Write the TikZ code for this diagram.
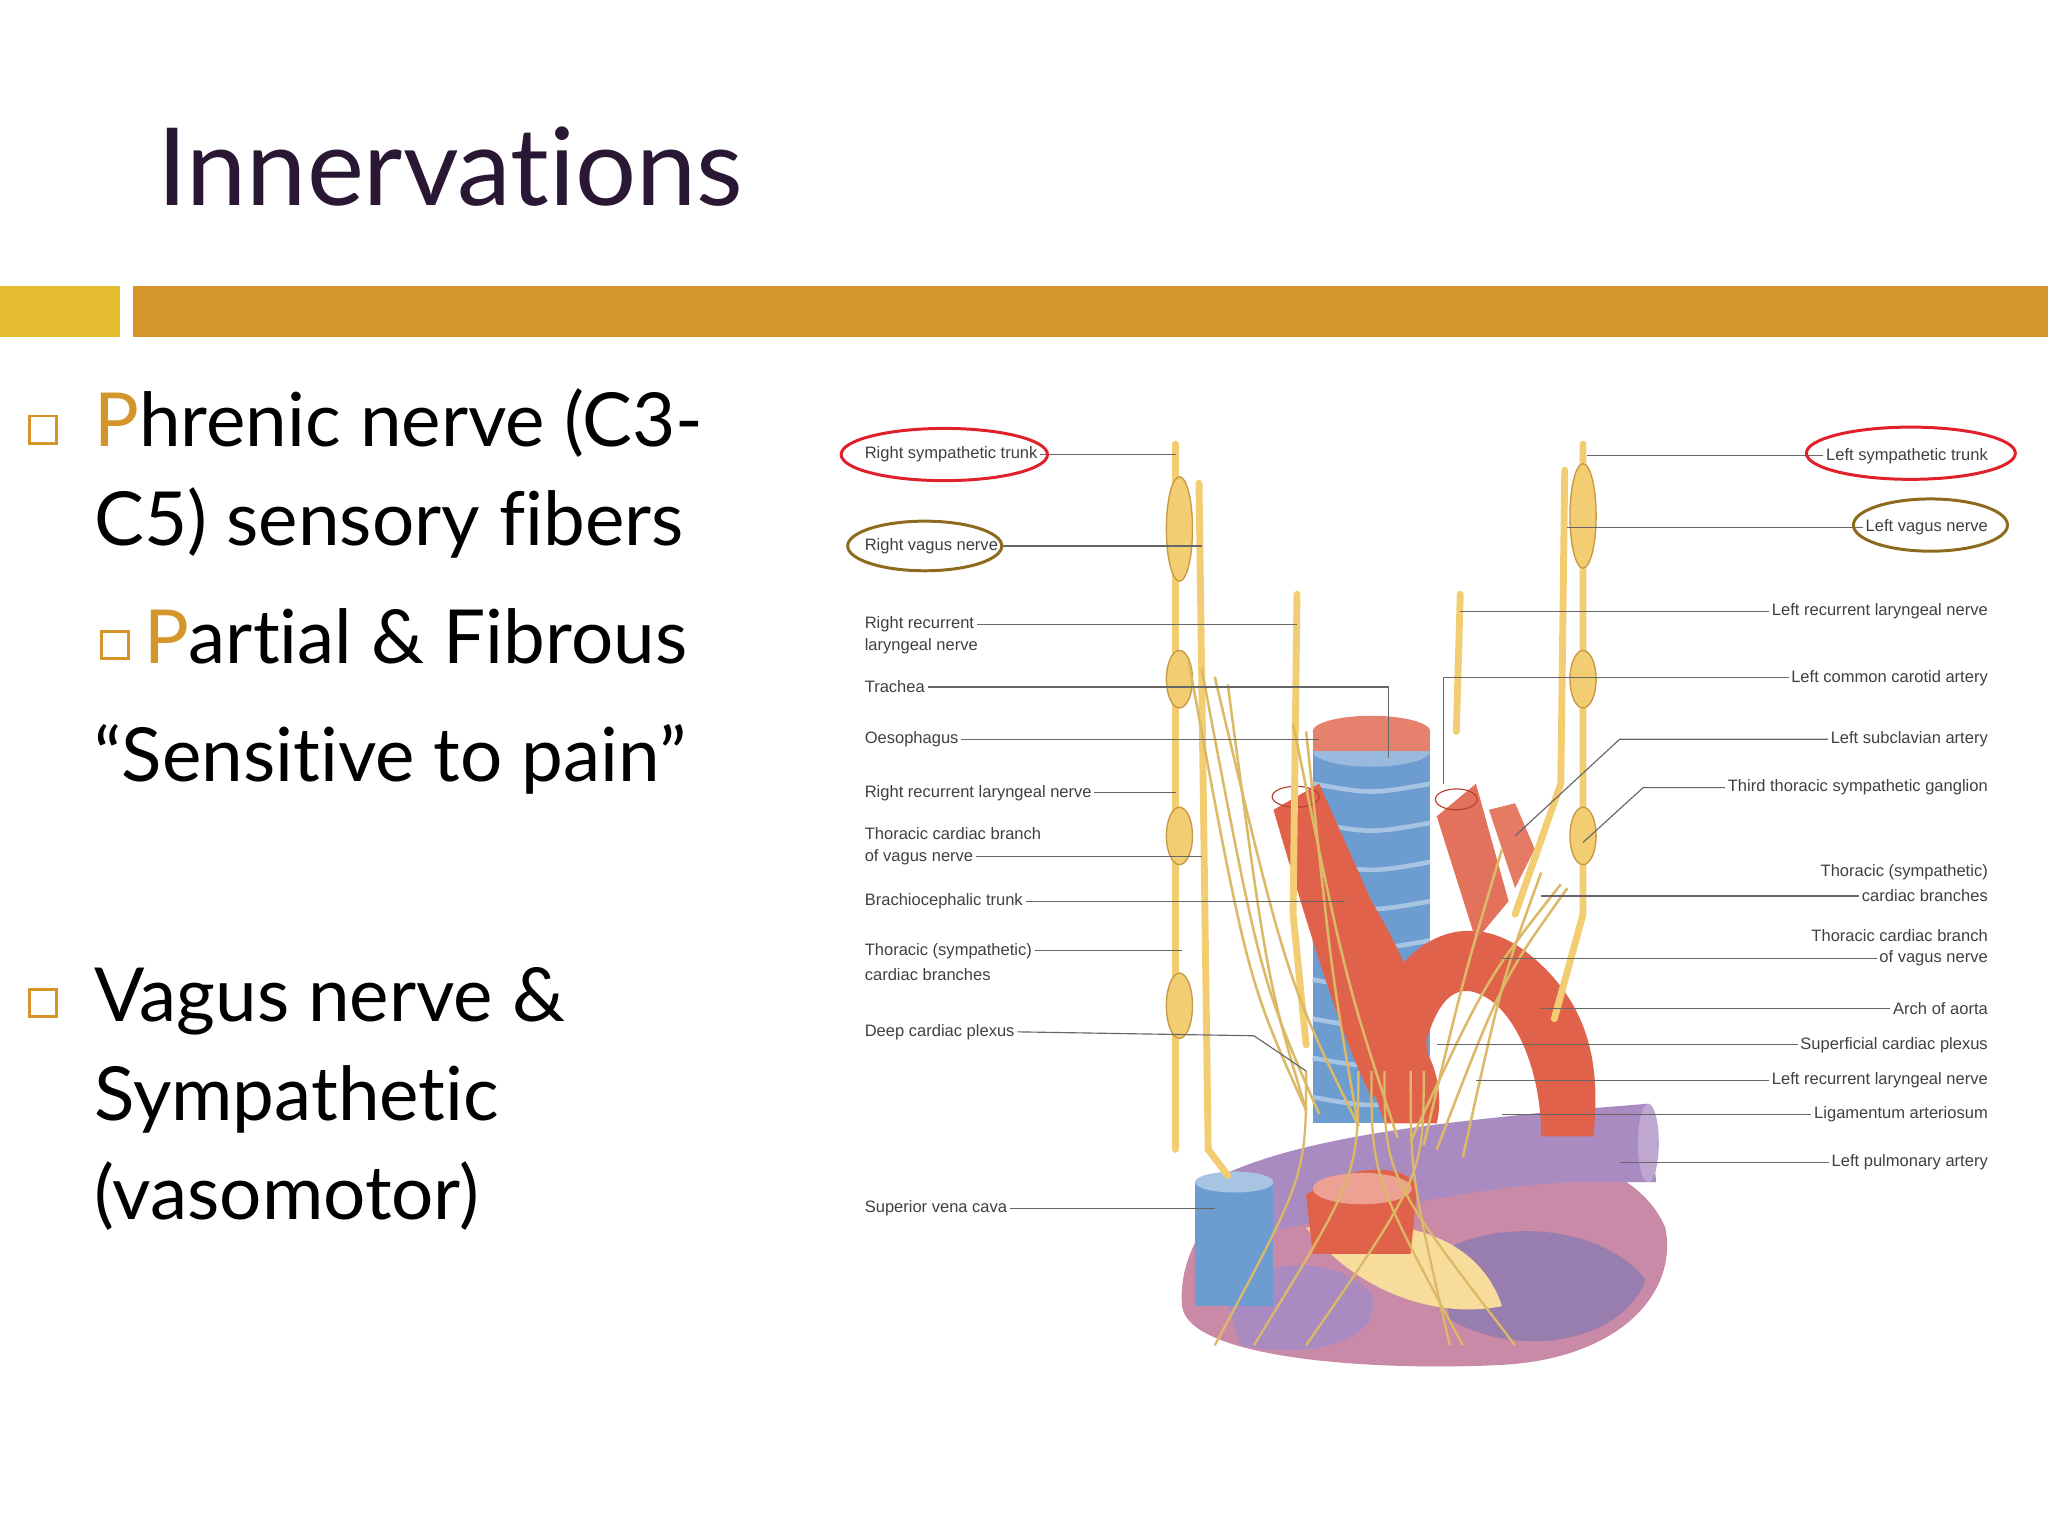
\documentclass[tikz,border=0pt]{standalone}
\usepackage{fontspec}
\setmainfont{Liberation Sans}
\newfontfamily\tfont[Ligatures=NoCommon]{Lato}
\usetikzlibrary{shapes.geometric}
\definecolor{ttl}{HTML}{2A1733}
\definecolor{barY}{HTML}{E3BC30}
\definecolor{obar}{HTML}{D4952B}
\definecolor{nerve}{HTML}{F3CD72}
\definecolor{nerved}{HTML}{C99A45}
\definecolor{art}{HTML}{E0624A}
\definecolor{artd}{HTML}{B8402E}
\definecolor{vein}{HTML}{6D9DD0}
\definecolor{purp}{HTML}{A98BC2}
\definecolor{pink}{HTML}{C98AA8}
\definecolor{ered}{HTML}{E0202A}
\definecolor{ebrown}{HTML}{8E6A1E}
\tikzset{
 lbl/.style={font=\fontsize{7.2}{10.2}\selectfont, text=black!75, inner sep=1pt, align=left},
 rlbl/.style={lbl, anchor=east, align=right},
 ll/.style={draw=black!60, line width=0.5pt},
 nv/.style={draw=nerved, line width=0.6pt, fill=nerve},
 nline/.style={draw=nerve, line width=3pt, line cap=round},
 bul/.style={draw=obar, line width=1.3pt, minimum size=0.42cm, inner sep=0pt},
 btxt/.style={font=\tfont\fontsize{32.5}{40}\selectfont, anchor=base west, inner sep=0pt},
}
\begin{document}
\begin{tikzpicture}[x=0.02cm,y=-0.02cm]
\useasboundingbox (0,0) rectangle (1568,1176);
\fill[white] (0,0) rectangle (1568,1176);
\node[font=\tfont\fontsize{47}{56}\selectfont, text=ttl, anchor=base west, inner sep=0pt] (title) at (120,157) {Innervations};
\fill[barY] (0,219) rectangle (92,258);
\fill[obar] (102,219) rectangle (1568,258);
\node[bul] (b1) at (33,329) {};
\node[btxt] (t1) at (72,342) {\textcolor{obar}{P}hrenic nerve (C3-};
\node[btxt] (t2) at (72,418) {C5) sensory fibers};
\node[bul] (b2) at (88,494) {};
\node[btxt] (t3) at (110,508) {\textcolor{obar}{P}artial \& Fibrous};
\node[btxt] (t4) at (72,598) {“Sensitive to pain”};
\node[bul] (b3) at (33,768) {};
\node[btxt] (t5) at (72,782) {Vagus nerve \&};
\node[btxt] (t6) at (72,858) {Sympathetic};
\node[btxt] (t7) at (72,934) {(vasomotor)};
% ---------- illustration ----------
\fill[pink] (905,1000) .. controls (900,940) and (960,880) .. (1050,875) .. controls (1150,870) and (1250,880) .. (1275,940) .. controls (1285,990) and (1240,1040) .. (1150,1045) .. controls (1050,1050) and (910,1040) .. (905,1000) -- cycle;
\fill[purp] (940,1000) .. controls (960,960) and (1020,960) .. (1050,990) .. controls (1060,1030) and (1000,1040) .. (950,1030) -- cycle;
\fill[purp!90!black] (1100,960) .. controls (1150,930) and (1230,940) .. (1260,980) .. controls (1240,1030) and (1160,1040) .. (1110,1010) -- cycle;
\fill[nerve!70] (1000,940) .. controls (1060,930) and (1130,940) .. (1150,1000) .. controls (1100,1010) and (1040,990) .. (1000,940) -- cycle;
\fill[purp] (935,900) .. controls (1000,870) and (1100,860) .. (1200,850) -- (1262,845) -- (1268,905) -- (1200,905) .. controls (1120,910) and (1040,930) .. (960,945) -- cycle;
\fill[purp!75] (1262,875) ellipse (8 and 30);
\fill[vein] (1005,575) rectangle (1095,860);
\foreach \yy in {600,630,660,690,720,750,780,810,840} \draw[vein!60!white,line width=2pt] (1005,\yy) .. controls (1050,\yy+8) .. (1095,\yy);
\fill[vein!70!white] (1050,575) ellipse (45 and 12);
\fill[art!80] (1050,560) ellipse (45 and 12);
\fill[art!80] (1005,560) rectangle (1095,575);
\fill[art] (1040,810) .. controls (1060,720) and (1120,690) .. (1170,730) .. controls (1220,770) and (1225,820) .. (1220,870) -- (1180,870) .. controls (1180,820) and (1160,770) .. (1130,760) .. controls (1100,750) and (1090,800) .. (1085,830) -- cycle;
\fill[art] (975,620) -- (1010,600) -- (1050,690) .. controls (1080,740) and (1100,790) .. (1090,830) -- (1050,840) .. controls (1030,800) and (1010,740) .. (975,620) -- cycle;
\fill[art] (1040,800) .. controls (1080,760) and (1110,820) .. (1100,860) -- (1060,860) -- cycle;
\fill[art!90] (1100,625) -- (1130,600) -- (1155,690) -- (1130,720) -- cycle;
\fill[art!85] (1140,620) -- (1160,615) -- (1175,650) -- (1160,680) -- cycle;
\draw[artd,line width=0.5pt] (992,610) ellipse (18 and 8);
\draw[artd,line width=0.5pt] (1115,612) ellipse (16 and 8);
\fill[vein] (915,905) rectangle (975,1000);
\fill[vein!60!white] (945,905) ellipse (30 and 8);
\fill[art] (1000,915) .. controls (1030,890) and (1080,890) .. (1085,910) -- (1080,960) -- (1005,960) -- cycle;
\fill[art!60] (1043,910) ellipse (38 and 12);
\draw[nline] (900,340) -- (900,880);
\draw[nline] (918,370) -- (925,880) -- (940,900);
\draw[nline] (993,455) -- (990,700) -- (1000,800);
\draw[nline] (1212,340) -- (1212,700) -- (1190,780);
\draw[nline] (1198,360) -- (1195,600) -- (1160,700);
\draw[nline] (1118,455) -- (1115,560);
\foreach \yy/\h in {405/40,520/22,640/22,770/25} \filldraw[nv] (903,\yy) ellipse (10 and \h);
\foreach \yy/\h in {395/40,520/22,640/22} \filldraw[nv] (1212,\yy) ellipse (10 and \h);
\foreach \a/\b in {910/1000,920/1010,930/1040,1000/1040,990/1070,1200/1100,1195/1080,1180/1120,1150/1090,940/1000}
 \draw[nerve!90!black,line width=1.1pt] (\a,{500+(\a-900)*0.6}) .. controls ({(\a+\b)/2},750) .. (\b,{850+(\b-1000)*0.3});
\foreach \a/\b in {1000/930,1040/960,1080/1110,1060/1160,1090/1000,1050/1120}
 \draw[nerve!90!black,line width=1pt] (\a,820) .. controls (\a,900) .. (\b,1030);
% ---------- labels left ----------
\node[lbl,anchor=west] (L1) at (660,348) {Right sympathetic trunk};
\draw[ll] (L1.east) -- (900,348);
\node[draw=ered,line width=1.3pt,ellipse,minimum width=3.16cm,minimum height=0.8cm] (e1) at (723,348) {};
\node[lbl,anchor=west] (L2) at (660,418) {Right vagus nerve};
\draw[ll] (L2.east) -- (920,418);
\node[draw=ebrown,line width=1.3pt,ellipse,minimum width=2.36cm,minimum height=0.76cm] (e2) at (708,418) {};
\node[lbl,anchor=west] (L3a) at (660,478) {Right recurrent};
\node[lbl,anchor=west] (L3b) at (660,495) {laryngeal nerve};
\draw[ll] (L3a.east) -- (993,478);
\node[lbl,anchor=west] (L4) at (660,526) {Trachea};
\draw[ll] (L4.east) -- (1063,526) -- (1063,580);
\node[lbl,anchor=west] (L5) at (660,566) {Oesophagus};
\draw[ll] (L5.east) -- (1010,566);
\node[lbl,anchor=west] (L6) at (660,607) {Right recurrent laryngeal nerve};
\draw[ll] (L6.east) -- (900,607);
\node[lbl,anchor=west] (L7a) at (660,638) {Thoracic cardiac branch};
\node[lbl,anchor=west] (L7b) at (660,656) {of vagus nerve};
\draw[ll] (L7b.east) -- (920,656);
\node[lbl,anchor=west] (L8) at (660,690) {Brachiocephalic trunk};
\draw[ll] (L8.east) -- (1030,690);
\node[lbl,anchor=west] (L9a) at (660,728) {Thoracic (sympathetic)};
\node[lbl,anchor=west] (L9b) at (660,746) {cardiac branches};
\draw[ll] (L9a.east) -- (905,728);
\node[lbl,anchor=west] (L10) at (660,790) {Deep cardiac plexus};
\draw[ll] (L10.east) -- (960,793) -- (1000,820);
\node[lbl,anchor=west] (L11) at (660,925) {Superior vena cava};
\draw[ll] (L11.east) -- (930,925);
% ---------- labels right ----------
\node[rlbl] (R1) at (1524,349) {Left sympathetic trunk};
\draw[ll] (R1.west) -- (1215,349);
\node[draw=ered,line width=1.3pt,ellipse,minimum width=3.2cm,minimum height=0.8cm] (e3) at (1463,347) {};
\node[rlbl] (R2) at (1524,404) {Left vagus nerve};
\draw[ll] (R2.west) -- (1200,404);
\node[draw=ebrown,line width=1.3pt,ellipse,minimum width=2.36cm,minimum height=0.8cm] (e4) at (1478,402) {};
\node[rlbl] (R3) at (1524,468) {Left recurrent laryngeal nerve};
\draw[ll] (R3.west) -- (1118,468);
\node[rlbl] (R4) at (1524,519) {Left common carotid artery};
\draw[ll] (R4.west) -- (1105,519) -- (1105,600);
\node[rlbl] (R5) at (1524,566) {Left subclavian artery};
\draw[ll] (R5.west) -- (1240,566) -- (1160,640);
\node[rlbl] (R6) at (1524,603) {Third thoracic sympathetic ganglion};
\draw[ll] (R6.west) -- (1258,603) -- (1212,645);
\node[rlbl] (R7a) at (1524,668) {Thoracic (sympathetic)};
\node[rlbl] (R7b) at (1524,686) {cardiac branches};
\draw[ll] (R7b.west) -- (1180,686);
\node[rlbl] (R8a) at (1524,716) {Thoracic cardiac branch};
\node[rlbl] (R8b) at (1524,734) {of vagus nerve};
\draw[ll] (R8b.west) -- (1150,734);
\node[rlbl] (R9) at (1524,772) {Arch of aorta};
\draw[ll] (R9.west) -- (1180,772);
\node[rlbl] (R10) at (1524,800) {Superficial cardiac plexus};
\draw[ll] (R10.west) -- (1100,800);
\node[rlbl] (R11) at (1524,827) {Left recurrent laryngeal nerve};
\draw[ll] (R11.west) -- (1130,827);
\node[rlbl] (R12) at (1524,853) {Ligamentum arteriosum};
\draw[ll] (R12.west) -- (1150,853);
\node[rlbl] (R13) at (1524,890) {Left pulmonary artery};
\draw[ll] (R13.west) -- (1240,890);
\end{tikzpicture}
\end{document}
